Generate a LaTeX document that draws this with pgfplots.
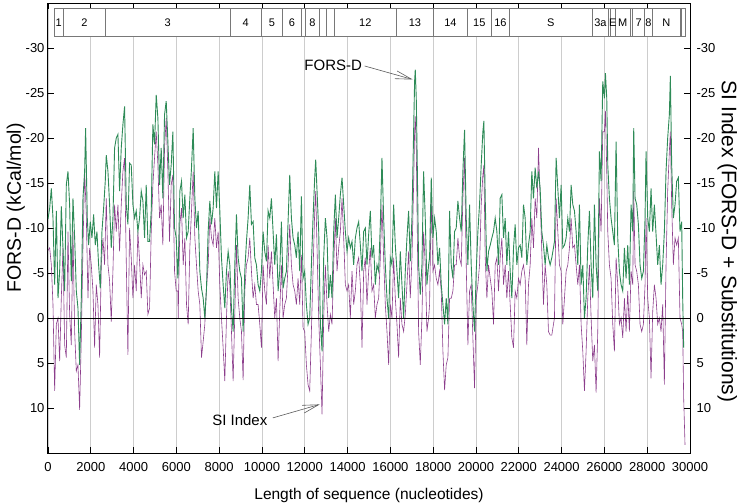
\documentclass[border=0pt]{standalone}
\usepackage{fontspec}
\setmainfont{Liberation Sans}
\usepackage{pgfplots}
\pgfplotsset{compat=1.18}
\usetikzlibrary{arrows.meta}
\definecolor{fgreen}{RGB}{46,139,87}
\definecolor{spurple}{RGB}{140,62,140}
\definecolor{gridgray}{RGB}{205,205,205}
\definecolor{boxgray}{RGB}{120,120,120}
\definecolor{arrgray}{RGB}{90,90,90}
\begin{document}
\begin{tikzpicture}
\begin{axis}[name=ax, scale only axis, width=642pt, height=450pt,
  xmin=0, xmax=30000, ymin=-35, ymax=15, y dir=reverse,
  scaled x ticks=false,
  xtick={0,2000,...,30000},
  xticklabels={0,2000,4000,6000,8000,10000,12000,14000,16000,18000,20000,22000,24000,26000,28000,30000},
  ytick={-30,-25,-20,-15,-10,-5,0,5,10},
  yticklabels={-30,-25,-20,-15,-10,-5,0,5,10},
  xtick pos=both, xticklabel pos=bottom,
  ytick pos=both, yticklabel pos=left,
  tick align=inside, major tick length=6pt,
  tick style={black, line width=0.8pt},
  axis line style={black, line width=1pt},
  xmajorgrids, major grid style={gridgray, line width=0.8pt},
  ticklabel style={font=\fontsize{13}{15}\selectfont},
  xticklabel style={yshift=-6pt},
  xlabel={Length of sequence (nucleotides)},
  xlabel style={font=\fontsize{15.5}{17}\selectfont, at={(axis description cs:0.5,0)}, anchor=center, yshift=-42pt},
  ylabel={FORS-D (kCal/mol)},
  ylabel style={font=\fontsize{19.5}{21}\selectfont, at={(axis description cs:-0.05,0.545)}, anchor=center},
]
\addplot[spurple, line width=0.6pt] table[x=x,y=y] {
x y
0 -7.5
78 -7.8
156 -5.9
233 -1.5
311 8.1
389 0.7
467 0
545 4.8
622 -2.2
700 -7.8
778 3.0
856 4.4
934 -9.6
1011 -0.4
1089 3.0
1167 -9.6
1245 1.5
1323 5.9
1400 5.2
1478 10.2
1556 2.2
1634 -7.8
1712 -16.3
1789 -11.5
1867 -2.2
1945 -7.8
2023 -5.9
2101 -3.0
2178 3.3
2256 -3.7
2334 -1.5
2412 4.4
2490 -5.9
2567 -8.9
2645 -5.9
2723 -13.3
2801 -5.9
2879 -4.1
2956 0.4
3034 -5.2
3112 -12.6
3190 -9.6
3268 -12.6
3345 -7.4
3423 -12.6
3501 -16.3
3579 -17.8
3657 -6.3
3734 4.1
3812 -10.0
3890 -6.7
3968 -2.2
4046 -5.9
4123 -3.0
4201 -9.6
4279 -6.3
4357 -2.2
4435 -5.9
4512 -4.8
4590 -5.2
4668 -0.4
4746 -1.1
4824 -9.6
4901 -14.8
4979 -17.8
5057 -20.7
5135 -17.0
5213 -11.1
5290 -12.6
5368 -8.1
5446 -18.9
5524 -22.2
5602 -16.3
5679 -8.5
5757 -14.8
5835 -15.9
5913 -5.2
5991 -3.0
6068 -3.0
6084 0
6161 -10.4
6239 -12.2
6317 -5.9
6395 -8.9
6473 -1.5
6550 0.7
6628 -7.8
6706 -11.9
6784 -16.3
6862 -8.9
6939 -5.9
7017 -3.0
7095 -1.5
7173 4.4
7251 2.6
7328 0.7
7406 -3.3
7484 -5.9
7562 -11.1
7640 -8.9
7717 -8.1
7795 -11.1
7873 -7.8
7951 -9.6
8029 -3.7
8106 0
8184 3.3
8262 7.0
8340 0
8418 -5.2
8495 -3.7
8573 1.5
8651 7.0
8729 -0.4
8807 -8.1
8884 -2.2
8962 0
9040 1.5
9118 6.9
9196 -3.0
9273 -5.9
9351 -6.7
9429 -8.9
9507 -5.2
9585 -2.2
9662 -3.7
9740 -1.5
9818 -1.5
9896 0.7
9974 3.3
10051 -5.9
10129 -3.0
10207 -1.5
10285 -8.1
10363 -4.4
10440 -7.4
10518 -3.7
10596 0
10674 -2.2
10752 4.8
10829 -0.7
10907 -5.9
10985 0
11063 -1.5
11141 -2.2
11218 -5.9
11296 -10.4
11374 -5.9
11452 -3.7
11530 -3.0
11607 -1.5
11685 -4.4
11763 -1.5
11841 -7.0
11919 1.1
11996 1.5
12074 5.2
12152 7.4
12230 8.1
12308 1.5
12385 -5.2
12463 -11.9
12510 -14.1
12572 -7.8
12650 0
12728 5.2
12806 10.7
12883 0
12961 -5.9
13039 -1.5
13117 1.5
13195 -0.4
13272 0.7
13350 -5.9
13428 -11.1
13506 -5.2
13584 -7.8
13661 -9.6
13739 -13.3
13817 -8.9
13895 -3.7
13973 -3.0
14050 -3.7
14128 0
14206 -5.2
14284 -1.5
14362 -3.0
14439 -5.9
14517 -6.7
14595 -3.7
14673 3.3
14751 -5.2
14828 -6.7
14906 -1.5
14984 -5.2
15062 -7.8
15140 -3.0
15217 -3.7
15295 0
15373 -1.5
15451 -2.2
15529 -6.7
15606 -12.6
15684 -6.7
15762 -1.5
15840 1.5
15918 5.2
15995 -1.5
16073 0
16151 -6.7
16229 -2.2
16307 0.7
16384 4.4
16462 -2.2
16540 0.7
16618 1.5
16696 -0.4
16773 -3.7
16851 -7.4
16929 -2.2
17007 -6.7
17085 -14.8
17131 -20.7
17162 -22.4
17209 -18.9
17256 -9.6
17318 1.5
17396 5.2
17474 0
17551 -9.6
17629 -5.9
17707 1.5
17785 0
17831 -1.5
17909 -13.3
17987 -5.2
18065 -5.9
18143 -4.4
18220 -3.7
18298 -5.2
18376 -3.0
18454 3.7
18532 8.0
18609 5.2
18687 4.4
18765 -2.2
18843 -2.2
18921 -3.0
18998 -5.9
19076 -5.9
19154 -8.9
19232 -6.7
19310 -5.9
19387 -13.3
19465 -17.8
19543 -5.9
19621 3.0
19699 -3.0
19776 -3.7
19854 2.2
19932 7.8
20010 -2.2
20088 -3.7
20165 -5.9
20243 -12.6
20321 -15.9
20368 -17.0
20430 -6.7
20508 -2.2
20586 -5.9
20664 -4.4
20741 -3.0
20819 0.7
20897 -5.9
20975 -6.7
21052 -3.0
21130 -6.7
21208 -8.9
21286 -3.7
21364 -5.9
21441 -2.2
21519 -5.2
21597 -1.5
21675 2.2
21753 3.3
21830 -3.0
21908 -2.2
21986 -4.4
22064 -3.7
22142 -5.2
22219 -5.9
22297 -4.4
22375 3.0
22453 -3.7
22531 -5.9
22608 -11.1
22686 -7.8
22764 -13.3
22842 -11.1
22920 -18.9
22997 -13.3
23075 -7.4
23153 -1.5
23231 -5.9
23309 -3.7
23386 1.5
23464 1.9
23542 1.9
23620 0.7
23666 0
23745 -13.3
23823 -9.6
23900 -5.9
23978 -5.2
24056 0.7
24134 -2.2
24212 -5.2
24289 -5.9
24367 -7.8
24445 -11.1
24523 -7.8
24601 -8.1
24678 -5.9
24756 -3.7
24834 -5.9
24912 0.7
24990 3.7
25067 8.1
25145 3.7
25223 -2.2
25301 -5.9
25379 0
25456 4.8
25534 3.0
25612 8.3
25690 1.5
25768 -13.3
25845 -9.6
25923 -20.7
26001 -20.7
26048 -23.0
26110 -16.3
26157 -9.6
26234 -5.9
26312 -4.4
26390 0.7
26468 3.7
26546 -6.7
26623 -3.7
26701 0.7
26779 0
26857 2.2
26935 -2.2
27012 1.5
27090 -3.0
27168 1.5
27246 -5.2
27324 -3.7
27370 -14.1
27433 -5.9
27510 -5.2
27588 -3.7
27666 0.7
27744 1.5
27822 0.7
27899 -3.7
27946 -11.1
28024 -2.2
28102 0
28179 6.7
28257 -0.7
28335 -3.7
28413 -2.2
28491 0.7
28568 0
28646 1.5
28724 -1.5
28802 7.4
28880 -5.9
28957 -14.1
29035 -18.5
29082 -20.7
29144 -12.6
29222 -5.9
29300 -8.9
29378 -8.1
29455 -8.9
29533 0
29611 0.7
29658 1.5
29704 8.9
29767 14.1
};
\addplot[fgreen, line width=0.9pt] table[x=x,y=y] {
x y
0 -11.0
78 -12.2
156 -14.4
233 -11.1
311 -3.7
389 -11.9
467 -2.2
545 -5.2
622 -12.4
700 -7.8
778 -3.0
856 -14.8
934 -16.3
1011 -12.6
1089 -4.1
1167 -13.3
1245 -8.9
1323 -3.0
1400 -1.1
1478 5.2
1556 -2.2
1634 -13.3
1712 -16.3
1758 -21.1
1836 -11.1
1898 -8.1
1976 -10.7
2054 -8.9
2132 -11.5
2210 -8.1
2287 -9.6
2365 -5.9
2443 -3.3
2521 -9.6
2599 -12.2
2676 -15.2
2723 -18.1
2801 -16.3
2879 -12.6
2956 -7.8
3034 -11.1
3112 -18.9
3190 -20.0
3268 -20.4
3345 -14.1
3423 -18.9
3501 -21.5
3579 -23.5
3657 -12.6
3734 -10.4
3812 -17.2
3890 -17.0
3968 -12.6
4046 -11.1
4123 -11.9
4201 -9.6
4279 -11.1
4357 -14.1
4435 -13.0
4512 -8.9
4590 -14.8
4668 -8.5
4746 -8.5
4824 -11.9
4901 -21.5
4979 -19.3
5057 -24.8
5135 -22.2
5213 -14.8
5290 -18.9
5368 -13.3
5446 -22.6
5524 -24.1
5602 -19.6
5679 -14.8
5757 -17.0
5835 -20.7
5913 -10.0
5991 -8.9
6068 -4.4
6084 -5.2
6161 -14.1
6239 -15.2
6317 -11.1
6395 -13.7
6473 -8.9
6550 -9.6
6628 -13.3
6706 -16.7
6784 -21.1
6862 -13.3
6939 -10.0
7017 -11.9
7095 -5.2
7173 -3.3
7251 -2.2
7328 0
7406 -3.3
7484 -9.6
7562 -13.0
7640 -10.4
7717 -12.2
7795 -16.3
7873 -12.2
7951 -16.3
8029 -11.9
8106 -6.7
8184 -3.7
8262 -1.1
8340 -5.2
8418 -7.4
8495 -5.9
8573 -1.1
8651 1.5
8729 -5.9
8807 -11.5
8884 -6.7
8962 -5.2
9040 -4.4
9118 1.5
9196 -5.2
9273 -8.5
9351 -11.1
9429 -14.8
9507 -10.4
9585 -10.7
9662 -6.7
9740 -5.9
9818 -3.7
9896 -3.0
9974 -5.2
10051 -9.6
10129 -7.4
10207 -6.3
10285 -11.9
10363 -11.1
10440 -13.3
10518 -9.6
10596 -5.9
10674 -9.3
10752 -3.0
10829 -5.2
10907 -10.7
10985 -3.3
11063 -4.4
11141 -5.2
11218 -10.7
11296 -15.9
11374 -11.1
11452 -8.9
11530 -8.1
11607 -6.7
11685 -9.6
11763 -5.2
11841 -13.5
11919 -4.4
11996 -5.2
12074 -1.5
12152 0.7
12230 0
12308 -5.9
12385 -11.1
12463 -15.6
12510 -17.6
12572 -14.1
12650 -9.6
12728 0.7
12806 3.7
12883 -6.7
12961 -11.1
13039 -8.9
13117 -2.2
13195 -4.8
13272 -2.2
13350 -9.6
13428 -13.7
13506 -8.9
13584 -11.1
13661 -13.7
13739 -15.6
13817 -12.6
13895 -9.6
13973 -7.4
14050 -8.9
14128 -7.8
14206 -8.5
14284 -5.9
14362 -8.9
14439 -10.0
14517 -10.7
14595 -8.1
14673 -5.2
14751 -9.6
14828 -10.0
14906 -5.9
14984 -9.3
15062 -11.9
15140 -6.7
15217 -8.1
15295 -3.7
15373 -5.9
15451 -5.2
15529 -10.4
15606 -17.8
15684 -11.1
15762 -5.9
15840 -2.2
15918 0
15995 -6.7
16073 -5.9
16151 -12.6
16229 -8.1
16307 -5.2
16384 -2.2
16462 -7.4
16540 -3.7
16618 0
16696 -5.2
16773 -8.9
16851 -11.9
16929 -6.3
17007 -11.1
17085 -20.7
17131 -26.3
17162 -27.6
17209 -24.4
17256 -17.0
17318 -5.9
17396 -2.6
17474 -5.9
17551 -16.3
17629 -11.1
17707 -3.7
17785 -5.9
17831 -6.7
17909 -15.6
17987 -8.9
18065 -11.1
18143 -9.6
18220 -5.9
18298 -7.8
18376 -3.7
18454 -1.5
18532 0.7
18609 -2.2
18687 0.7
18765 -11.9
18843 -5.9
18921 -4.4
18998 -9.6
19076 -10.0
19154 -13.0
19232 -11.1
19310 -9.6
19387 -16.3
19465 -20.9
19543 -11.1
19621 -5.9
19699 -12.6
19776 -5.9
19854 -1.5
19932 1.5
20010 -5.2
20088 -9.6
20165 -12.6
20243 -17.0
20321 -20.7
20368 -21.9
20430 -13.3
20508 -5.2
20586 -7.4
20664 -8.1
20741 -8.9
20819 -9.6
20897 -11.1
20975 -9.6
21052 -5.9
21130 -13.3
21208 -13.7
21286 -8.9
21364 -11.1
21441 -5.9
21519 -9.6
21597 -5.2
21675 -2.2
21753 -7.8
21830 -10.4
21908 -5.9
21986 -7.8
22064 -8.1
22142 -6.7
22219 -12.6
22297 -11.1
22375 -5.9
22453 -8.1
22531 -9.6
22608 -16.3
22686 -13.3
22764 -16.7
22842 -14.4
22920 -16.3
22997 -14.4
23075 -9.6
23153 -8.1
23231 -5.9
23309 -8.1
23386 -6.7
23464 -5.9
23542 -6.7
23620 -7.8
23666 -8.5
23745 -17.8
23823 -14.4
23900 -11.1
23978 -14.8
24056 -7.8
24134 -8.1
24212 -8.9
24289 -11.1
24367 -9.6
24445 -14.8
24523 -12.6
24601 -11.9
24678 -9.6
24756 -5.9
24834 -12.6
24912 -3.7
24990 -5.9
25067 0
25145 -2.2
25223 -8.1
25301 -11.9
25379 -5.9
25456 -2.2
25534 -12.6
25612 -5.9
25690 -3.0
25768 -18.5
25845 -15.2
25923 -26.3
26001 -24.4
26048 -27.2
26110 -24.4
26157 -17.0
26234 -13.3
26312 -11.1
26390 -9.6
26468 -8.1
26546 -19.6
26623 -8.9
26701 -5.2
26779 -3.7
26857 -3.0
26935 -7.8
27012 -4.4
27090 -8.1
27168 -3.7
27246 -12.6
27324 -9.6
27370 -21.1
27433 -13.3
27510 -12.6
27588 -10.4
27666 -5.9
27744 -4.4
27822 -5.2
27899 -11.1
27946 -18.5
28024 -11.1
28102 -9.6
28179 -14.4
28257 -9.6
28335 -12.6
28413 -9.3
28491 -5.9
28568 -8.1
28646 -3.7
28724 -5.9
28802 -9.6
28880 -16.3
28957 -20.0
29035 -22.6
29082 -26.9
29144 -17.0
29222 -11.1
29300 -12.6
29378 -15.2
29455 -15.6
29533 -9.6
29611 -10.7
29658 -2.2
29704 3.3
};
\draw[black, line width=0.9pt] (axis cs:0,0) -- (axis cs:30000,0);
% genome map
\tikzset{gbox/.style={draw=boxgray, fill=white, line width=0.6pt}, glab/.style={font=\fontsize{11}{12}\selectfont, inner sep=0pt}}
\draw[gbox] (axis cs:280,-34.4) rectangle (axis cs:714,-31.3);
\draw[gbox] (axis cs:714,-34.4) rectangle (axis cs:2693,-31.3);
\draw[gbox] (axis cs:2693,-34.4) rectangle (axis cs:8496,-31.3);
\draw[gbox] (axis cs:8496,-34.4) rectangle (axis cs:9975,-31.3);
\draw[gbox] (axis cs:9975,-34.4) rectangle (axis cs:10956,-31.3);
\draw[gbox] (axis cs:10956,-34.4) rectangle (axis cs:11843,-31.3);
\draw[gbox] (axis cs:11843,-34.4) rectangle (axis cs:12043,-31.3);
\draw[gbox] (axis cs:12043,-34.4) rectangle (axis cs:12664,-31.3);
\draw[gbox] (axis cs:12664,-34.4) rectangle (axis cs:13010,-31.3);
\draw[gbox] (axis cs:13010,-34.4) rectangle (axis cs:13383,-31.3);
\draw[gbox] (axis cs:13383,-34.4) rectangle (axis cs:16277,-31.3);
\draw[gbox] (axis cs:16277,-34.4) rectangle (axis cs:18018,-31.3);
\draw[gbox] (axis cs:18018,-34.4) rectangle (axis cs:19592,-31.3);
\draw[gbox] (axis cs:19592,-34.4) rectangle (axis cs:20712,-31.3);
\draw[gbox] (axis cs:20712,-34.4) rectangle (axis cs:21566,-31.3);
\draw[gbox] (axis cs:21566,-34.4) rectangle (axis cs:25425,-31.3);
\draw[gbox] (axis cs:25425,-34.4) rectangle (axis cs:26204,-31.3);
\draw[gbox] (axis cs:26204,-34.4) rectangle (axis cs:26281,-31.3);
\draw[gbox] (axis cs:26281,-34.4) rectangle (axis cs:26500,-31.3);
\draw[gbox] (axis cs:26500,-34.4) rectangle (axis cs:27200,-31.3);
\draw[gbox] (axis cs:27200,-34.4) rectangle (axis cs:27324,-31.3);
\draw[gbox] (axis cs:27324,-34.4) rectangle (axis cs:27870,-31.3);
\draw[gbox] (axis cs:27870,-34.4) rectangle (axis cs:28257,-31.3);
\draw[gbox] (axis cs:28257,-34.4) rectangle (axis cs:29534,-31.3);
\draw[gbox] (axis cs:29581,-34.4) rectangle (axis cs:29782,-31.3);
\node[glab] at (axis cs:497,-32.85) {1};
\node[glab] at (axis cs:1703,-32.85) {2};
\node[glab] at (axis cs:5595,-32.85) {3};
\node[glab] at (axis cs:9235,-32.85) {4};
\node[glab] at (axis cs:10465,-32.85) {5};
\node[glab] at (axis cs:11400,-32.85) {6};
\node[glab] at (axis cs:12353,-32.85) {8};
\node[glab] at (axis cs:14830,-32.85) {12};
\node[glab] at (axis cs:17148,-32.85) {13};
\node[glab] at (axis cs:18805,-32.85) {14};
\node[glab] at (axis cs:20152,-32.85) {15};
\node[glab] at (axis cs:21139,-32.85) {16};
\node[glab] at (axis cs:23495,-32.85) {S};
\node[glab] at (axis cs:25814,-32.85) {3a};
\node[glab] at (axis cs:26390,-32.85) {E};
\node[glab] at (axis cs:26850,-32.85) {M};
\node[glab] at (axis cs:27597,-32.85) {7};
\node[glab] at (axis cs:28063,-32.85) {8};
\node[glab] at (axis cs:28895,-32.85) {N};
% annotations
\node[font=\fontsize{15}{17}\selectfont] at (axis cs:13327,-28.1) {FORS-D};
\draw[arrgray, line width=0.6pt, -{Straight Barb[length=16pt,width=8pt]}] (axis cs:14800,-28.0) -- (axis cs:17040,-26.5);
\node[font=\fontsize{15}{17}\selectfont] at (axis cs:8963,11.3) {SI Index};
\draw[arrgray, line width=0.6pt, -{Straight Barb[length=16pt,width=8pt]}] (axis cs:10503,11.1) -- (axis cs:12697,9.6);
\end{axis}
\begin{axis}[scale only axis, width=642pt, height=450pt,
  xmin=0, xmax=30000, ymin=-35, ymax=15, y dir=reverse,
  axis x line=none, axis y line*=right,
  ytick={-30,-25,-20,-15,-10,-5,0,5,10},
  yticklabels={-30,-25,-20,-15,-10,-5,0,5,10},
  tick align=inside, major tick length=6pt,
  tick style={black, line width=0.8pt},
  axis line style={black, line width=1pt},
  ticklabel style={font=\fontsize{13}{15}\selectfont},
  yticklabel style={xshift=3pt},
  ylabel={SI Index (FORS-D + Substitutions)},
  ylabel style={font=\fontsize{21}{23}\selectfont, at={(axis description cs:1.058,0.47)}, anchor=center, rotate=180},
]
\addplot[draw=none] coordinates {(0,0)};
\end{axis}
\pgfresetboundingbox
\path ([xshift=-48pt,yshift=-50pt]ax.south west) rectangle ([xshift=48pt,yshift=3pt]ax.north east);
\end{tikzpicture}
\end{document}
